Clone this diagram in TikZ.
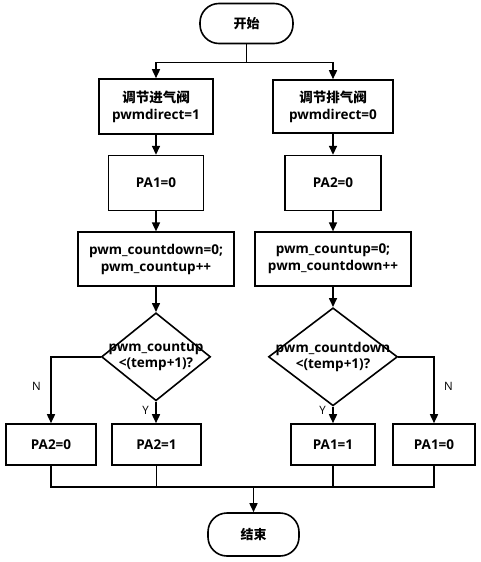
\documentclass[tikz,border=0pt]{standalone}
\usepackage{fontspec}
\setmainfont{Open Sans}
\newfontfamily\cjk{Noto Sans CJK SC}
\usetikzlibrary{arrows.meta,positioning,shapes.geometric}
\tikzset{
  termbox/.style={draw,line width=1.6pt,rounded corners=19pt,minimum height=40pt,
                  inner sep=0pt,font=\cjk\bfseries\fontsize{13}{15}\selectfont},
  procbox/.style={draw,line width=1.6pt,minimum height=54pt,align=center,inner sep=2pt,
                  font=\bfseries\fontsize{13.5}{17}\selectfont},
  setbox/.style={draw,line width=1.6pt,minimum height=41pt,inner sep=2pt,
                 font=\bfseries\fontsize{13.5}{15}\selectfont},
  decide/.style={draw,diamond,line width=1.6pt,inner sep=0pt},
  condtext/.style={font=\bfseries\fontsize{13.5}{16}\selectfont,align=center,inner sep=0pt},
  flow/.style={-{Triangle[length=9pt,width=8pt]},line width=1.6pt},
  link/.style={line width=1.6pt},
  yn/.style={font=\fontsize{11.5}{13}\selectfont}
}

\begin{document}
\begin{tikzpicture}[x=1pt,y=-1pt]
  \useasboundingbox (0,0) rectangle (481,562);
  \node[termbox,minimum width=93pt] (start) at (246.5,23.5) {开始};
  % left branch
  \node[procbox,minimum width=114pt,minimum height=55pt] (l1) at (156,106.5) {{\cjk 调节进气阀}\\pwmdirect=1};
  \node[procbox,minimum width=95pt,minimum height=55pt,below=20pt of l1] (l2) {PA1=0};
  \node[procbox,minimum width=156pt,below=20pt of l2] (l3) {pwm\_countdown=0;\\pwm\_countup++};
  \node[decide,minimum width=109pt,minimum height=88pt,below=25pt of l3,
        label={[condtext]center:pwm\_countup\\<(temp+1)?}] (l4) {};
  % right branch
  \node[procbox,minimum width=120pt,minimum height=53pt] (r1) at (333,106.5) {{\cjk 调节排气阀}\\pwmdirect=0};
  \node[procbox,minimum width=96pt,minimum height=55pt,below=21pt of r1] (r2) {PA2=0};
  \node[procbox,minimum width=156pt,below=20pt of r2] (r3) {pwm\_countup=0;\\pwm\_countdown++};
  \node[decide,minimum width=129pt,minimum height=98pt,below=20pt of r3,
        label={[condtext]center:pwm\_countdown\\<(temp+1)?}] (r4) {};
  % outputs
  \node[setbox,minimum width=90pt] (ln) at (51,444.5) {PA2=0};
  \node[setbox,minimum width=89pt] (ly) at (156.5,444.5) {PA2=1};
  \node[setbox,minimum width=84pt] (ry) at (333,444.5) {PA1=1};
  \node[setbox,minimum width=82pt] (rn) at (434,444.5) {PA1=0};
  \node[termbox,minimum width=91pt,minimum height=43pt] (stop) at (253.5,534.5) {结束};
  \coordinate (join) at (253.5,487);

  \draw[flow] (start.south) -- ++(0,18) -| (l1.north);
  \draw[flow] (start.south) -- ++(0,18) -| (r1.north);
  \draw[flow] (l1)--(l2); \draw[flow] (l2)--(l3); \draw[flow] (l3)--(l4);
  \draw[flow] (r1)--(r2); \draw[flow] (r2)--(r3); \draw[flow] (r3)--(r4);
  \draw[flow] (l4.west) -| node[yn,pos=0.72,left=6pt]{N} (ln.north);
  \draw[flow] (l4.south) -- node[yn,pos=0.4,left=3pt]{Y} (l4.south |- ly.north);
  \draw[flow] (r4.south) -- node[yn,pos=0.25,left=3pt]{Y} (r4.south |- ry.north);
  \draw[flow] (r4.east) -| node[yn,pos=0.72,right=6pt]{N} (rn.north);
  \draw[link] (ln.south) |- (join) -| (rn.south);
  \draw[link] (ly.south) -- (ly.south |- join);
  \draw[link] (ry.south) -- (ry.south |- join);
  \draw[flow] (join) -- (stop.north);
\end{tikzpicture}
\end{document}
